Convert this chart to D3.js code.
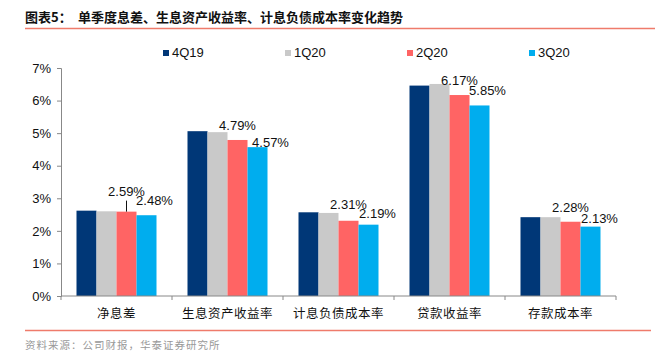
<!DOCTYPE html>
<html>
<head>
<meta charset="utf-8">
<script src="https://cdn.jsdelivr.net/npm/d3@7"></script>
<style>
  body { margin: 0; background: #fff; }
  svg { display: block; }
  text { font-family: "Liberation Sans", Arial, sans-serif; }
  .cn { font-family: "Noto Sans CJK SC", sans-serif; }
</style>
</head>
<body>
<svg id="chart" width="667" height="353"></svg>
<script>
// data
const categories = ["净息差", "生息资产收益率", "计息负债成本率", "贷款收益率", "存款成本率"]
const series = ["4Q19", "1Q20", "2Q20", "3Q20"]
const v4Q19 = [2.62, 5.06, 2.57, 6.46, 2.42]
const v1Q20 = [2.60, 5.03, 2.55, 6.51, 2.42]
const v2Q20 = [2.59, 4.79, 2.31, 6.17, 2.28]
const v3Q20 = [2.48, 4.57, 2.19, 5.85, 2.13]
const yTicks = [0, 1, 2, 3, 4, 5, 6, 7]

const values = [v4Q19, v1Q20, v2Q20, v3Q20]
const colors = ["#003777", "#c9c9c9", "#ff6464", "#00adee"]

// only the last two quarters carry labels in the source chart
// [dx, dy] nudges per category, for 2Q20 and 3Q20
const nudge2Q20 = [[0, -16], [0, -10], [0, -12], [0, -10], [0, -10]]
const nudge3Q20 = [[8, -10], [13, 0], [9, -7], [8, -10], [9, -4]]

const svg = d3.select("#chart")

// title
svg.append("text").attr("class", "cn")
    .attr("x", 25).attr("y", 22)
    .attr("font-size", 13).attr("font-weight", "bold").attr("fill", "#111")
    .text("图表5：")
svg.append("text").attr("class", "cn")
    .attr("x", 78).attr("y", 22)
    .attr("font-size", 13).attr("font-weight", "bold").attr("fill", "#111")
    .text("单季度息差、生息资产收益率、计息负债成本率变化趋势")
svg.append("line")
    .attr("x1", 25).attr("x2", 655).attr("y1", 28.5).attr("y2", 28.5)
    .attr("stroke", "#ef7b6b").attr("stroke-width", 1.5)

// scales
const x0 = d3.scaleBand().domain(categories).range([61, 616]).padding(0)
const x1 = d3.scaleBand().domain(series).range([0, x0.bandwidth()])
    .paddingInner(0).paddingOuter(0.775)
const y = d3.scaleLinear().domain([0, 7]).range([296, 68])

// y axis
const yAxis = svg.append("g")
    .attr("transform", "translate(61,0)")
    .call(d3.axisLeft(y).tickValues(yTicks).tickFormat(d => d + "%").tickSize(4).tickPadding(6))
yAxis.select(".domain").attr("stroke", "#888")
yAxis.selectAll(".tick line").attr("stroke", "#888")
yAxis.selectAll(".tick text").attr("font-size", 13).attr("fill", "#111")
    .attr("font-family", "Liberation Sans, Arial, sans-serif")

// bars
const groups = svg.append("g").selectAll("g")
    .data(series).enter().append("g")
    .attr("fill", (d, i) => colors[i])

groups.selectAll("rect")
    .data((s, si) => categories.map((c, ci) => ({c: c, s: s, v: values[si][ci]})))
    .enter().append("rect")
    .attr("x", d => x0(d.c) + x1(d.s))
    .attr("y", d => y(d.v))
    .attr("width", x1.bandwidth())
    .attr("height", d => y(0) - y(d.v))

// x axis
const xAxis = svg.append("g")
    .attr("transform", "translate(0,296)")
xAxis.append("line")
    .attr("x1", 61).attr("x2", 616).attr("stroke", "#888")
xAxis.selectAll(".sep")
    .data(d3.range(categories.length + 1)).enter().append("line")
    .attr("x1", i => 61 + i * x0.step()).attr("x2", i => 61 + i * x0.step())
    .attr("y1", 0).attr("y2", 4).attr("stroke", "#888")
xAxis.selectAll(".lab")
    .data(categories).enter().append("text")
    .attr("class", "cn")
    .attr("x", d => x0(d) + x0.bandwidth() / 2)
    .attr("y", 22)
    .attr("text-anchor", "middle")
    .attr("font-size", 12.5).attr("fill", "#111")
    .attr("letter-spacing", 0.5)
    .text(d => d)

// value labels
const fmt = v => v.toFixed(2) + "%"
categories.forEach((c, ci) => {
  const cx2 = x0(c) + x1("2Q20") + x1.bandwidth() / 2
  const cx3 = x0(c) + x1("3Q20") + x1.bandwidth() / 2
  const n2 = nudge2Q20[ci], n3 = nudge3Q20[ci]
  svg.append("text")
      .attr("x", cx2 + n2[0]).attr("y", y(v2Q20[ci]) + n2[1])
      .attr("text-anchor", "middle").attr("font-size", 13).attr("fill", "#111")
      .text(fmt(v2Q20[ci]))
  if (n2[1] < -12) {
    svg.append("line")
        .attr("x1", cx2).attr("x2", cx2)
        .attr("y1", y(v2Q20[ci]) + n2[1] + 5).attr("y2", y(v2Q20[ci]))
        .attr("stroke", "#111").attr("stroke-width", 1)
  }
  svg.append("text")
      .attr("x", cx3 + n3[0]).attr("y", y(v3Q20[ci]) + n3[1])
      .attr("text-anchor", "middle").attr("font-size", 13).attr("fill", "#111")
      .text(fmt(v3Q20[ci]))
})

// legend
const legend = svg.append("g").selectAll("g")
    .data(series).enter().append("g")
    .attr("transform", (d, i) => "translate(" + (163 + i * 122) + ",50)")
legend.append("rect")
    .attr("width", 6).attr("height", 6)
    .attr("fill", (d, i) => colors[i])
legend.append("text")
    .attr("x", 9).attr("y", 7)
    .attr("font-size", 13).attr("fill", "#111")
    .text(d => d)

// footer
svg.append("line")
    .attr("x1", 25).attr("x2", 651).attr("y1", 330.5).attr("y2", 330.5)
    .attr("stroke", "#ef7b6b").attr("stroke-width", 1.5)
svg.append("text").attr("class", "cn")
    .attr("x", 25).attr("y", 349)
    .attr("font-size", 10.5).attr("fill", "#999")
    .attr("letter-spacing", 1)
    .text("资料来源：公司财报，华泰证券研究所")
</script>
</body>
</html>
